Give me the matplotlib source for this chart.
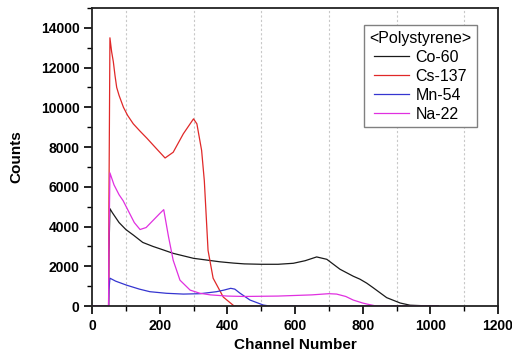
import matplotlib
matplotlib.use("Agg")
import matplotlib.pyplot as plt
from matplotlib.ticker import MultipleLocator

plt.rcParams['font.family'] = ['Liberation Sans', 'DejaVu Sans']

# Co-60
co_ch = [0, 49, 50, 53, 60, 80, 100, 123, 150, 180, 206, 240, 300, 378, 418, 450, 500, 550, 595,
         630, 664, 694, 733, 772, 792, 812, 831, 871, 911, 940, 1000, 1023]
co_val = [0, 0, 2700, 4900, 4700, 4200, 3850, 3560, 3200, 3000, 2850, 2650, 2400, 2225, 2160, 2120,
          2100, 2100, 2150, 2280, 2470, 2350, 1850, 1500, 1350, 1150, 920, 420, 150, 40, 0, 0]

# Cs-137
cs_ch = [0, 49, 50, 53, 58, 63, 68, 73, 80, 93, 105, 122, 142, 162, 191, 216, 240, 270, 290, 300,
         310, 324, 332, 343, 358, 388, 420, 1023]
cs_val = [0, 0, 5000, 13500, 12800, 12300, 11600, 11000, 10600, 10000, 9600, 9170, 8800, 8450,
          7910, 7450, 7740, 8670, 9170, 9420, 9170, 7830, 6300, 2800, 1400, 450, 0, 0]

# Mn-54
mn_ch = [0, 49, 50, 53, 70, 102, 140, 171, 220, 270, 320, 368, 390, 410, 422, 437, 467, 506, 525, 1023]
mn_val = [0, 0, 800, 1400, 1250, 1050, 850, 720, 640, 600, 620, 720, 800, 890, 850, 650, 300, 50, 0, 0]

# Na-22
na_ch = [0, 49, 50, 53, 65, 80, 92, 110, 125, 142, 160, 180, 200, 212, 226, 240, 260, 290, 319,
         350, 400, 450, 500, 550, 600, 650, 700, 723, 750, 772, 800, 812, 840, 1023]
na_val = [0, 0, 3000, 6700, 6100, 5600, 5300, 4700, 4200, 3850, 3950, 4300, 4650, 4850, 3500, 2300,
          1300, 800, 640, 560, 500, 480, 490, 500, 530, 560, 620, 600, 480, 300, 150, 100, 0, 0]

series = [
    ("Co-60", co_ch, co_val, "#1a1a1a"),
    ("Cs-137", cs_ch, cs_val, "#e02828"),
    ("Mn-54", mn_ch, mn_val, "#3535d0"),
    ("Na-22", na_ch, na_val, "#e030e0"),
]

fig = plt.figure(figsize=(5.12, 3.58), dpi=100)
ax = fig.add_axes([92/512, 1-306/358, (498-92)/512, (306-8)/358])

for name, ch, val, col in series:
    ax.plot(ch, val, color=col, lw=0.9, label=name)

ax.set_xlim(0, 1200)
ax.set_ylim(0, 15000)
ax.xaxis.set_major_locator(MultipleLocator(200))
ax.xaxis.set_minor_locator(MultipleLocator(100))
ax.yaxis.set_major_locator(MultipleLocator(2000))
ax.yaxis.set_minor_locator(MultipleLocator(1000))

for x in [100, 300, 500, 700, 900, 1100]:
    ax.axvline(x, color="#c8c8c8", lw=0.8, ls=(0, (2, 2)), zorder=0)

ax.tick_params(which='major', direction='out', length=6, width=1.2, labelsize=10, pad=3,
               top=False, right=False)
ax.tick_params(which='minor', direction='out', length=3.5, width=1.0, top=False, right=False)
for lab in ax.get_xticklabels() + ax.get_yticklabels():
    lab.set_fontweight('bold')
for sp in ax.spines.values():
    sp.set_linewidth(1.3)
    sp.set_color('#222222')

ax.set_xlabel("Channel Number", fontsize=11, fontweight='bold')
ax.set_ylabel("Counts", fontsize=11, fontweight='bold')
ax.xaxis.set_label_coords(0.5, -(338-306)/298)
ax.yaxis.set_label_coords((23-92)/406, 0.5)

leg = ax.legend(title="<Polystyrene>", loc='upper right',
                bbox_to_anchor=((477-92)/406, (306-25)/298), borderaxespad=0,
                fontsize=11.5, title_fontsize=11.5, fancybox=False, framealpha=1,
                edgecolor='#808080', handlelength=2.2, handletextpad=0.4,
                labelspacing=0.25, borderpad=0.35)
leg.get_frame().set_linewidth(1.0)

fig.savefig("out.png", dpi=100)
